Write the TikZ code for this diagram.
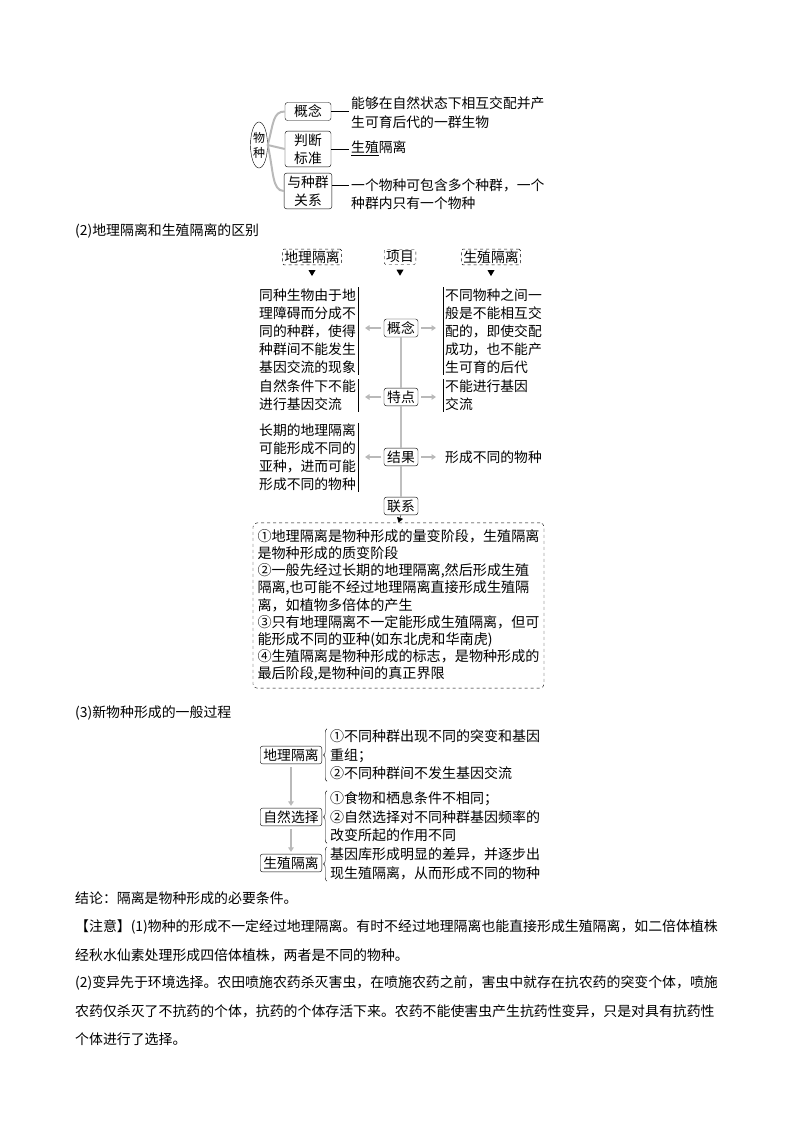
\documentclass[tikz,border=0pt]{standalone}
\usepackage{fontspec}
\setmainfont{Noto Sans CJK SC}
\usepackage{tikz}
\usetikzlibrary{shapes.geometric,arrows.meta,decorations.pathreplacing,calc}
\newcommand{\fs}[2]{\fontsize{#1pt}{#2pt}\selectfont}

\begin{document}
\begin{tikzpicture}[x=1pt, y=-1pt,
    keybox/.style={draw, rounded corners=2.5pt, inner xsep=3.2pt, inner ysep=2.5pt, align=center, font=\fs{13.8}{18}},
    headbox/.style={draw, dashed, rounded corners=1.5pt, inner xsep=2pt, inner ysep=1.5pt, font=\fs{13.8}{18}},
    txt/.style={align=left, inner xsep=2pt, inner ysep=1pt, font=\fs{13.8}{18}},
    para/.style={anchor=west, inner sep=0pt, font=\fs{13.9}{18}},
    garrow/.style={draw=gray!55, line width=1.4pt, -{Triangle[length=4.5pt,width=5.5pt]}, shorten >=7pt, shorten <=3pt},
    gline/.style={draw=gray!50, line width=1.4pt},
    branch/.style={draw=gray!55, line width=2pt},
    bar/.style={draw, line width=0.6pt}
]
\useasboundingbox (0,0) rectangle (800,1132);

% (1) species
\node[ellipse, draw, inner sep=0pt, minimum width=17pt, minimum height=46pt, align=center, font=\fs{12}{15}] (wz) at (259,145) {物\\种};
\node[keybox, minimum width=46pt] (gn) at (308,111.5) {概念};
\node[keybox, minimum width=46pt] (pd) at (308,149) {判断\\标准};
\node[keybox, minimum width=46pt] (gx) at (308,191) {与种群\\关系};
\draw[branch] (wz.east) .. controls +(6,-22) and +(-12,0) .. (gn.west);
\draw[branch] (wz.east) -- (pd.west);
\draw[branch] (wz.east) .. controls +(6,26) and +(-12,0) .. (gx.west);
\node[txt, anchor=west, font=\fs{13.8}{19}] (gnt) at (349,113) {能够在自然状态下相互交配并产\\生可育后代的一群生物};
\node[txt, anchor=west] (pdt) at (349,148) {\underline{生殖}隔离};
\node[txt, anchor=west] (gxt) at (349,194) {一个物种可包含多个种群，一个\\种群内只有一个物种};
\coordinate (gxa) at ([yshift=6pt]gx.east);
\draw[bar] (gn.east) -- (gn.east -| gnt.west);
\draw[bar] (pd.east) -- (pd.east -| pdt.west);
\draw[bar] (gxa) -- (gxa -| gxt.west);

% (2) comparison
\node[para] (h2) at (75,231) {(2)地理隔离和生殖隔离的区别};
\node[headbox] (hdl) at (312,257) {地理隔离};
\node[headbox] (hxm) at (400,257) {项目};
\node[headbox] (hsz) at (491,257) {生殖隔离};
\foreach \n in {hdl,hxm,hsz} \fill ($(\n.south)+(-3.5,5)$) -- ++(7,0) -- ++(-3.5,6) -- cycle;
\foreach \n/\t/\y in {gn2/概念/328, td/特点/397, jg/结果/457, lx/联系/506} \node[keybox] (\n) at (401,\y) {\t};
\draw[gline] (gn2.south) -- (td.north) (td.south) -- (jg.north) (jg.south) -- (lx.north);
\node[txt, anchor=east] (l1) at (358,331) {同种生物由于地\\理障碍而分成不\\同的种群，使得\\种群间不能发生\\基因交流的现象};
\node[txt, anchor=west] (r1) at (443,331) {不同物种之间一\\般是不能相互交\\配的，即使交配\\成功，也不能产\\生可育的后代};
\node[txt, anchor=east] (l2) at (358,395.5) {自然条件下不能\\进行基因交流};
\node[txt, anchor=west] (r2) at (443,395.5) {不能进行基因\\交流};
\node[txt, anchor=east] (l3) at (358,457.5) {长期的地理隔离\\可能形成不同的\\亚种，进而可能\\形成不同的物种};
\node[txt, anchor=west] (r3) at (443,457) {形成不同的物种};
\foreach \n in {l1,l2,l3} \draw[bar] (\n.north east) -- (\n.south east);
\foreach \n in {r1,r2} \draw[bar] (\n.north west) -- (\n.south west);
\draw[garrow] (gn2.west) -- (gn2.west -| l1.east); \draw[garrow] (gn2.east) -- (gn2.east -| r1.west);
\draw[garrow] (td.west) -- (td.west -| l2.east); \draw[garrow] (td.east) -- (td.east -| r2.west);
\draw[garrow] (jg.west) -- (jg.west -| l3.east); \draw[garrow] (jg.east) -- (jg.east -| r3.west);
\node[draw, dashed, rounded corners=4pt, text width=282pt, inner xsep=4.5pt, inner ysep=6.5pt, align=left, font=\fs{14.1}{17.2}] (lxbox) at (398.5,605.5) {①地理隔离是物种形成的量变阶段，生殖隔离\\是物种形成的质变阶段\\②一般先经过长期的地理隔离,然后形成生殖\\隔离,也可能不经过地理隔离直接形成生殖隔\\离，如植物多倍体的产生\\③只有地理隔离不一定能形成生殖隔离，但可\\能形成不同的亚种(如东北虎和华南虎)\\④生殖隔离是物种形成的标志，是物种形成的\\最后阶段,是物种间的真正界限};
\draw[-{Triangle[length=5pt,width=6pt]}] (lx.south) -- (lxbox.north);

% (3) process
\node[para] (h3) at (75,713) {(3)新物种形成的一般过程};
\node[keybox] (s1) at (291,755) {地理隔离};
\node[keybox] (s2) at (291,817) {自然选择};
\node[keybox] (s3) at (291,863) {生殖隔离};
\draw[garrow, shorten >=2pt] (s1.south) -- (s2.north);
\draw[garrow, shorten >=2pt] (s2.south) -- (s3.north);
\node[txt, anchor=west, inner xsep=3pt, font=\fs{14}{18.5}] (p1) at (327,755) {①不同种群出现不同的突变和基因\\重组；\\②不同种群间不发生基因交流};
\node[txt, anchor=west, inner xsep=3pt, font=\fs{14}{18.5}] (p2) at (327,817) {①食物和栖息条件不相同；\\②自然选择对不同种群基因频率的\\改变所起的作用不同};
\node[txt, anchor=west, inner xsep=3pt, font=\fs{14}{18.5}] (p3) at (327,864) {基因库形成明显的差异，并逐步出\\现生殖隔离，从而形成不同的物种};
\foreach \n in {p1,p2,p3} \draw[decorate, decoration={brace, amplitude=3.5pt}] (\n.south west) -- (\n.north west);

% notes
\node[para] (c1) at (75,898) {结论：隔离是物种形成的必要条件。};
\node[para] (c2) at (75,927) {【注意】(1)物种的形成不一定经过地理隔离。有时不经过地理隔离也能直接形成生殖隔离，如二倍体植株};
\node[para] (c3) at (75,955) {经秋水仙素处理形成四倍体植株，两者是不同的物种。};
\node[para] (c4) at (75,983) {(2)变异先于环境选择。农田喷施农药杀灭害虫，在喷施农药之前，害虫中就存在抗农药的突变个体，喷施};
\node[para] (c5) at (75,1011) {农药仅杀灭了不抗药的个体，抗药的个体存活下来。农药不能使害虫产生抗药性变异，只是对具有抗药性};
\node[para] (c6) at (75,1039) {个体进行了选择。};
\end{tikzpicture}
\end{document}
